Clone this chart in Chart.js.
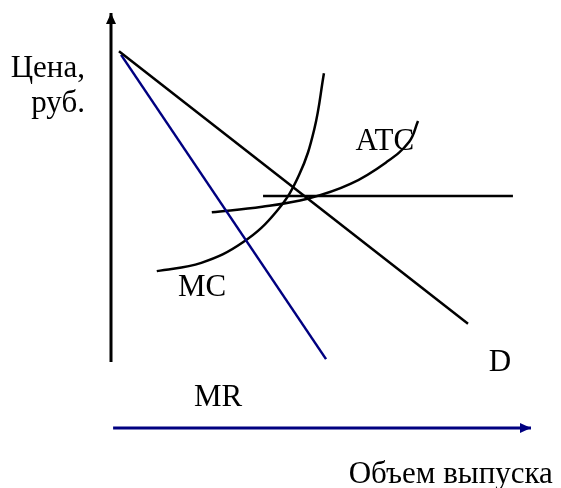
<!DOCTYPE html>
<html>
<head>
<meta charset="utf-8">
<script src="https://cdn.jsdelivr.net/npm/chart.js@4/dist/chart.umd.min.js"></script>
<style>
  body { margin: 0; background: #fff; }
  canvas { display: block; }
</style>
</head>
<body>
<canvas id="monopolyChart" width="561" height="488"></canvas>
<script>
// quantity (x) and price (y) in 0..100 units
var yAxisX = [0, 0];
var yAxisY = [15.9, 100];
var xAxisX = [0.5, 100];
var xAxisY = [0, 0];

var demandX = [1.9, 85];
var demandY = [90.8, 25.1];

var mrX = [2.4, 51.2];
var mrY = [89.9, 16.6];

var mcX = [10.9, 21.5, 31.5, 39.5, 44.8, 48.4, 50.7];
var mcY = [37.8, 39.8, 44.8, 52.3, 61.0, 72.0, 85.5];

var atcX = [24.0, 36.0, 47.0, 57.0, 65.5, 71.0, 73.1];
var atcY = [52.0, 53.3, 55.3, 58.8, 64.0, 69.0, 74.0];

var priceX = [36.2, 95.7];
var priceY = [55.9, 55.9];

// text labels
var labelTexts = ['Цена,', 'руб.', 'ATC', 'MC', 'D', 'MR', 'Объем выпуска'];
var labelX = [-6.2, -6.2, 65.2, 21.7, 92.6, 25.5, 105.2];
var labelY = [84.6, 76.1, 68.9, 33.7, 15.7, 7.2, -13.3];
var labelAlign = ['right', 'right', 'center', 'center', 'center', 'center', 'right'];
var labelBase = ['alphabetic', 'alphabetic', 'middle', 'middle', 'middle', 'middle', 'alphabetic'];

function toPoints(xs, ys) {
    var pts = [];
    for (var i = 0; i < xs.length; i++) {
        pts.push({ x: xs[i], y: ys[i] });
    }
    return pts;
}

function lineSet(xs, ys, color, width, tension) {
    return {
        data: toPoints(xs, ys),
        showLine: true,
        borderColor: color,
        backgroundColor: color,
        borderWidth: width,
        pointRadius: 0,
        fill: false,
        clip: false,
        tension: tension,
        borderCapStyle: 'butt'
    };
}

var NAVY = '#000080';

/* arrowheads for the axes and the text labels */
var decorPlugin = {
    id: 'decor',
    afterDatasetsDraw: function (chart) {
        var ctx = chart.ctx;
        var xs = chart.scales.x;
        var ys = chart.scales.y;

        // y axis arrow (up)
        var tx = xs.getPixelForValue(yAxisX[1]);
        var ty = ys.getPixelForValue(yAxisY[1]);
        ctx.save();
        ctx.fillStyle = '#000';
        ctx.beginPath();
        ctx.moveTo(tx, ty);
        ctx.lineTo(tx - 5, ty + 11);
        ctx.lineTo(tx + 5, ty + 11);
        ctx.closePath();
        ctx.fill();

        // x axis arrow (right)
        var ax = xs.getPixelForValue(xAxisX[1]);
        var ay = ys.getPixelForValue(xAxisY[1]);
        ctx.fillStyle = NAVY;
        ctx.beginPath();
        ctx.moveTo(ax, ay);
        ctx.lineTo(ax - 11, ay - 5);
        ctx.lineTo(ax - 11, ay + 5);
        ctx.closePath();
        ctx.fill();

        ctx.fillStyle = '#000';
        ctx.font = '31px "Liberation Serif", "Times New Roman", serif';
        for (var i = 0; i < labelTexts.length; i++) {
            ctx.textAlign = labelAlign[i];
            ctx.textBaseline = labelBase[i];
            ctx.fillText(labelTexts[i], xs.getPixelForValue(labelX[i]), ys.getPixelForValue(labelY[i]));
        }
        ctx.restore();
    }
};

var ctx = document.getElementById('monopolyChart');
var chart = new Chart(ctx, {
    type: 'scatter',
    data: {
        datasets: [
            lineSet(yAxisX, yAxisY, '#000', 3, 0),
            lineSet(xAxisX, xAxisY, NAVY, 3, 0),
            lineSet(demandX, demandY, '#000', 2.5, 0),
            lineSet(mrX, mrY, NAVY, 2.5, 0),
            lineSet(mcX, mcY, '#000', 2.5, 0.4),
            lineSet(atcX, atcY, '#000', 2.5, 0.4),
            lineSet(priceX, priceY, '#000', 2.5, 0)
        ]
    },
    options: {
        responsive: false,
        animation: false,
        devicePixelRatio: 1,
        layout: { padding: { left: 111, right: 30, top: 13, bottom: 60 } },
        plugins: {
            legend: { display: false },
            tooltip: { enabled: false }
        },
        scales: {
            x: { type: 'linear', min: 0, max: 100, display: false },
            y: { type: 'linear', min: 0, max: 100, display: false }
        }
    },
    plugins: [decorPlugin]
});
</script>
</body>
</html>
